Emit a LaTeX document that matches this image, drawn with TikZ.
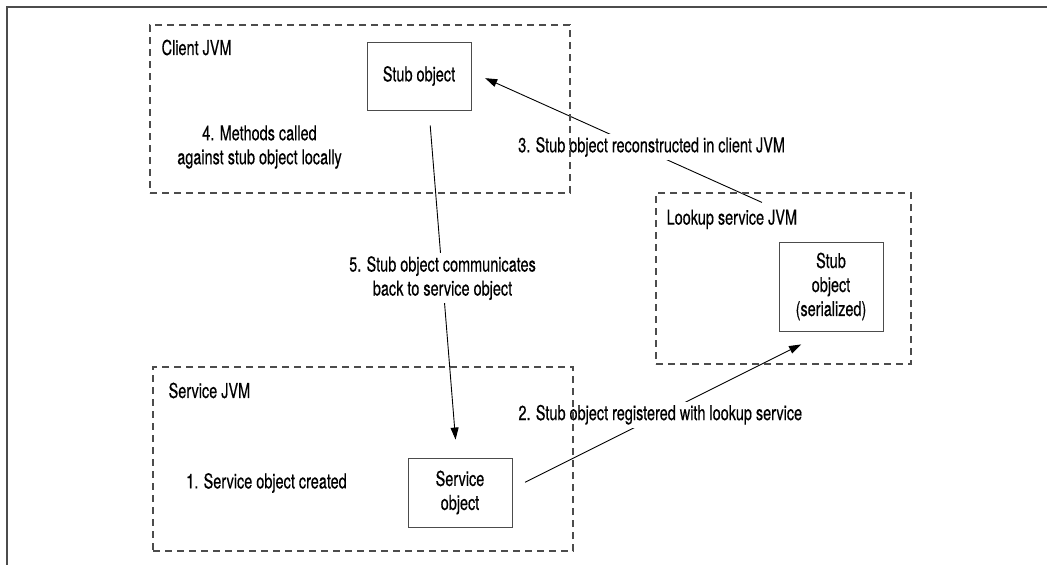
\documentclass[tikz,border=0pt]{standalone}
\usepackage{fontspec}
\setmainfont{TeX Gyre Heros}[FakeStretch=0.705, FakeBold=0.4]
\usetikzlibrary{arrows.meta, positioning, backgrounds}

\begin{document}
\begin{tikzpicture}[
  x=1pt, y=-1pt,
  font=\fontsize{20.5}{24}\selectfont,
  jvm/.style={draw=black!70, dash pattern=on 7pt off 5pt, line width=1.1pt, inner sep=0pt},
  jvmlbl/.style={inner sep=0pt},
  obj/.style={draw=black!70, line width=1pt, minimum width=104pt, align=center, inner sep=2pt},
  note/.style={align=center, inner sep=0pt},
  arr/.style={-{Triangle[length=12pt, width=8pt]}, line width=0.9pt},
  steplbl/.style={fill=white, align=center, inner sep=3pt},
  frame/.style={draw=black!70, line width=2pt},
]
  \useasboundingbox (0,0) rectangle (1047,565);
  \draw[frame] (7,565) -- (7,7) -- (1047,7);

  % JVM areas
  \node[jvm, minimum width=420pt, minimum height=168pt] (client) at (360,109) {};
  \node[jvm, minimum width=255pt, minimum height=171pt] (lookup) at (783.5,278.5) {};
  \node[jvm, minimum width=420pt, minimum height=184pt] (service) at (363,459) {};
  \node[jvmlbl, below right=15pt and 12pt of client.north west] (clientlbl) {Client JVM};
  \node[jvmlbl, below right=17pt and 11pt of lookup.north west] (lookuplbl) {Lookup service JVM};
  \node[jvmlbl, below right=16pt and 16pt of service.north west] (servicelbl) {Service JVM};

  % objects
  \node[obj, minimum height=68pt] (stub) at (419,76) {Stub object};
  \node[obj, minimum height=89pt] (serial) at (831,286.5) {Stub\\object\\(serialized)};
  \node[obj, minimum height=69pt] (svcobj) at (460,492.5) {Service\\object};

  \node[note] (methods) at (259.5,147) {4. Methods called\\against stub object locally};
  \node[note] (created) at (266.5,483) {1. Service object created};

  \begin{scope}[on background layer]
    \draw[arr, shorten <=14pt, shorten >=29pt] ([yshift=4pt]svcobj.east) -- node[steplbl, pos=0.47] (reglbl) {2. Stub object registered with lookup service} ([xshift=-4pt]serial.south);
    \draw[arr, shorten >=15pt] ([xshift=-21.5pt,yshift=-10pt]lookup.north) -- node[steplbl, pos=0.38, yshift=6pt] (reconlbl) {3. Stub object reconstructed in client JVM} ([yshift=4pt]stub.east);
    \draw[arr, shorten <=15pt, shorten >=18pt] ([xshift=10pt]stub.south) -- node[steplbl, pos=0.483] (commlbl) {5. Stub object communicates\\back to service object} ([xshift=-3pt]svcobj.north);
  \end{scope}
\end{tikzpicture}
\end{document}
